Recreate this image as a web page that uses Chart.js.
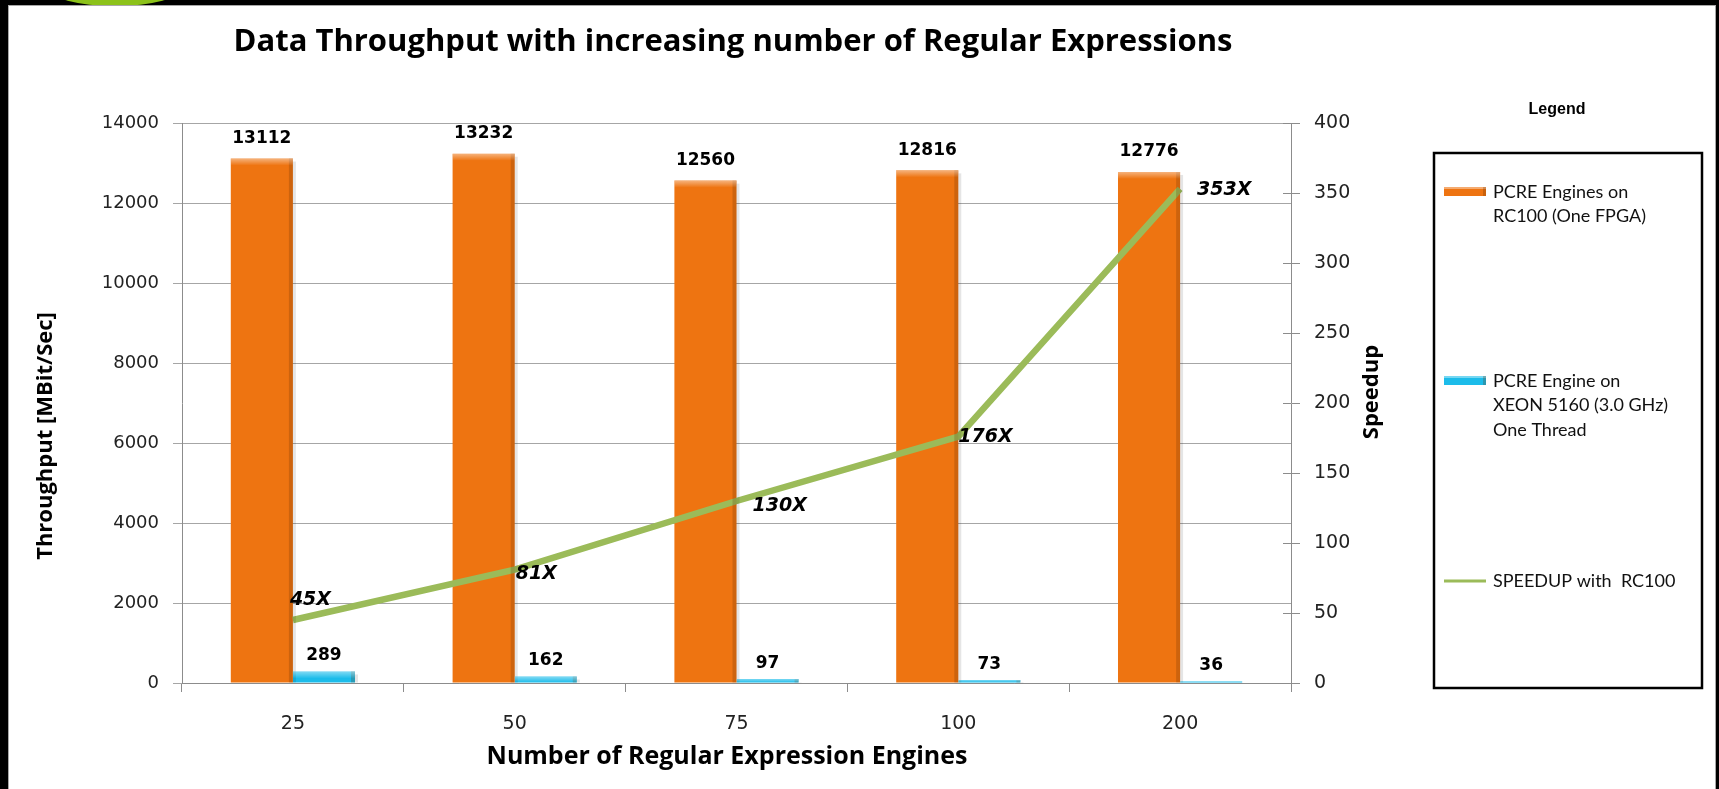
<!DOCTYPE html>
<html>
<head>
<meta charset="utf-8">
<title>Data Throughput with increasing number of Regular Expressions</title>
<script src="https://cdn.jsdelivr.net/npm/chart.js@4.4.0/dist/chart.umd.min.js"></script>
<style>
  html, body { margin: 0; padding: 0; background: #000; overflow: hidden; }
  #logo { position: absolute; left: 48px; top: -30px; width: 134px; height: 36px; border-radius: 50%; background: #8cc21a; }
  #panel { position: absolute; left: 8px; top: 5px; width: 1708px; height: 790px; background: #fff; border: 1px solid #a8a8a8; box-sizing: border-box; }
  #wrap { position: absolute; left: 0; top: 0; width: 1719px; height: 789px; }
</style>
</head>
<body>
<div id="logo"></div>
<div id="panel"></div>
<div id="wrap"><canvas id="chart"></canvas></div>
<script>
// Chart data
const engines = ['25', '50', '75', '100', '200'];
const fpgaThroughput = [13112, 13232, 12560, 12816, 12776];
const xeonThroughput = [289, 162, 97, 73, 36];
const speedup = [45, 81, 130, 176, 353];

// Axis ranges
const throughputMax = 14000;
const throughputStep = 2000;
const speedupMax = 400;
const speedupStep = 50;

// Legend text lines
const legendLines = [
  ['PCRE Engines on', 'RC100 (One FPGA)'],
  ['PCRE Engine on', 'XEON 5160 (3.0 GHz)', 'One Thread'],
  ['SPEEDUP with  RC100']
];

const orange = '#ee7411';
const blue = '#1cbcea';
const green = '#9bbb59';
const axisGray = '#8c8c8c';
const tickFont = { family: 'DejaVu Sans', size: 18 };

// label offsets for the speedup labels (dx, dy from the point)
const speedupLabelOffset = [[-3, -20], [1, 4], [16, 5], [0, 0], [17, 1]];

// Draws bevel, value labels, titles and the legend box
const decorPlugin = {
  id: 'decor',
  afterDatasetsDraw(chart) {
    const ctx = chart.ctx;
    // bevel effect on bars
    [0, 1].forEach(di => {
      chart.getDatasetMeta(di).data.forEach(bar => {
        const p = bar.getProps(['x', 'y', 'base', 'width'], true);
        const left = p.x - p.width / 2;
        const h = p.base - p.y;
        if (h < 1) return;
        ctx.save();
        ctx.fillStyle = 'rgba(0,0,0,0.10)';
        ctx.fillRect(left + p.width, p.y + 3, 3, h - 3);
        ctx.fillStyle = 'rgba(90,40,0,0.22)';
        ctx.fillRect(left + p.width - 4, p.y, 4, h);
        const g = ctx.createLinearGradient(0, p.y, 0, p.y + Math.min(7, h));
        g.addColorStop(0, 'rgba(255,255,255,0.45)');
        g.addColorStop(1, 'rgba(255,255,255,0)');
        ctx.fillStyle = g;
        ctx.fillRect(left, p.y, p.width, Math.min(7, h));
        ctx.restore();
      });
    });

    // bar value labels
    ctx.save();
    ctx.font = 'bold 17px "DejaVu Sans"';
    ctx.fillStyle = '#000';
    ctx.textAlign = 'center';
    ctx.textBaseline = 'middle';
    chart.getDatasetMeta(0).data.forEach((bar, i) => {
      ctx.fillText(String(fpgaThroughput[i]), bar.x, bar.y - 20);
    });
    chart.getDatasetMeta(1).data.forEach((bar, i) => {
      ctx.fillText(String(xeonThroughput[i]), bar.x, bar.y - 16);
    });

    // speedup labels
    ctx.font = 'italic bold 19px "DejaVu Sans"';
    ctx.textAlign = 'left';
    chart.getDatasetMeta(2).data.forEach((pt, i) => {
      const off = speedupLabelOffset[i];
      ctx.fillText(speedup[i] + 'X', pt.x + off[0], pt.y + off[1]);
    });
    ctx.restore();
  },
  afterDraw(chart) {
    const ctx = chart.ctx;
    const area = chart.chartArea;
    ctx.save();

    // inner half of the right axis tick marks
    const y1 = chart.scales.y1;
    ctx.strokeStyle = axisGray;
    ctx.lineWidth = 1;
    y1.ticks.forEach(t => {
      const py = Math.round(y1.getPixelForValue(t.value)) + 0.5;
      ctx.beginPath();
      ctx.moveTo(area.right - 8, py);
      ctx.lineTo(area.right, py);
      ctx.stroke();
    });

    // chart title
    ctx.fillStyle = '#000';
    ctx.textAlign = 'center';
    ctx.textBaseline = 'middle';
    ctx.font = 'bold 31px "Open Sans"';
    ctx.fillText('Data Throughput with increasing number of Regular Expressions', 733, 42);

    // axis titles
    ctx.font = 'bold 25px "Open Sans"';
    ctx.fillText('Number of Regular Expression Engines', 727, 757);
    ctx.font = 'bold 22px "Open Sans"';
    ctx.save();
    ctx.translate(46, 436);
    ctx.rotate(-Math.PI / 2);
    ctx.fillText('Throughput [MBit/Sec]', 0, 0);
    ctx.restore();
    ctx.save();
    ctx.translate(1372, 392);
    ctx.rotate(-Math.PI / 2);
    ctx.fillText('Speedup', 0, 0);
    ctx.restore();

    // legend box
    const bx = 1434, by = 153, bw = 268, bh = 535;
    ctx.strokeStyle = '#000';
    ctx.lineWidth = 2.5;
    ctx.strokeRect(bx, by, bw, bh);
    ctx.font = 'bold 16px "Liberation Sans Narrow", "Liberation Sans"';
    ctx.fillText('Legend', 1557, 110);

    const itemY = [192, 381, 581];
    const swatchX = 1444, swatchW = 42;
    ctx.textAlign = 'left';
    ctx.font = '18px Lato';
    legendLines.forEach((lines, i) => {
      const y = itemY[i];
      if (i < 2) {
        ctx.fillStyle = i === 0 ? orange : blue;
        ctx.fillRect(swatchX, y - 5, swatchW, 9);
        ctx.fillStyle = 'rgba(255,255,255,0.4)';
        ctx.fillRect(swatchX, y - 5, swatchW, 2);
        ctx.fillStyle = 'rgba(90,40,0,0.25)';
        ctx.fillRect(swatchX + swatchW - 3, y - 5, 3, 9);
      } else {
        ctx.strokeStyle = green;
        ctx.lineWidth = 3;
        ctx.beginPath();
        ctx.moveTo(swatchX, y);
        ctx.lineTo(swatchX + swatchW, y);
        ctx.stroke();
      }
      ctx.fillStyle = '#111';
      lines.forEach((line, j) => {
        ctx.fillText(line, 1493, y + j * 24.5);
      });
    });
    ctx.restore();
  }
};

const ctx = document.getElementById('chart').getContext('2d');
const chart = new Chart(ctx, {
  type: 'bar',
  data: {
    labels: engines,
    datasets: [
      {
        label: 'PCRE Engines on RC100 (One FPGA)',
        data: fpgaThroughput,
        backgroundColor: orange,
        yAxisID: 'y',
        order: 1,
        barPercentage: 1,
        categoryPercentage: 0.56
      },
      {
        label: 'PCRE Engine on XEON 5160 (3.0 GHz) One Thread',
        data: xeonThroughput,
        backgroundColor: blue,
        yAxisID: 'y',
        order: 1,
        barPercentage: 1,
        categoryPercentage: 0.56
      },
      {
        type: 'line',
        label: 'SPEEDUP with RC100',
        data: speedup,
        borderColor: green,
        borderWidth: 6.5,
        pointRadius: 0,
        tension: 0,
        yAxisID: 'y1',
        order: 0
      }
    ]
  },
  options: {
    responsive: true,
    maintainAspectRatio: false,
    animation: false,
    layout: { padding: { left: 0, top: 123, right: 288, bottom: 46 } },
    plugins: {
      legend: { display: false },
      tooltip: { enabled: false }
    },
    scales: {
      x: {
        grid: { drawOnChartArea: false, tickLength: 9, color: axisGray, offset: true },
        border: { color: axisGray },
        ticks: { font: { family: 'DejaVu Sans', size: 19 }, color: '#222', padding: 21 },
        afterFit(scale) { scale.height = 60; }
      },
      y: {
        position: 'left',
        min: 0,
        max: throughputMax,
        ticks: {
          stepSize: throughputStep,
          font: tickFont,
          color: '#222',
          padding: 14,
          callback: v => String(v)
        },
        grid: { color: '#a6a6a6', tickLength: 9 },
        border: { color: axisGray },
        afterFit(scale) { scale.width = 182; }
      },
      y1: {
        position: 'right',
        min: 0,
        max: speedupMax,
        ticks: {
          stepSize: speedupStep,
          font: { family: 'DejaVu Sans', size: 19 },
          color: '#222',
          padding: 14,
          callback: v => String(v)
        },
        grid: { drawOnChartArea: false, tickLength: 9, color: axisGray },
        border: { color: axisGray },
        afterFit(scale) { scale.width = 140; }
      }
    }
  },
  plugins: [decorPlugin]
});
</script>
</body>
</html>
